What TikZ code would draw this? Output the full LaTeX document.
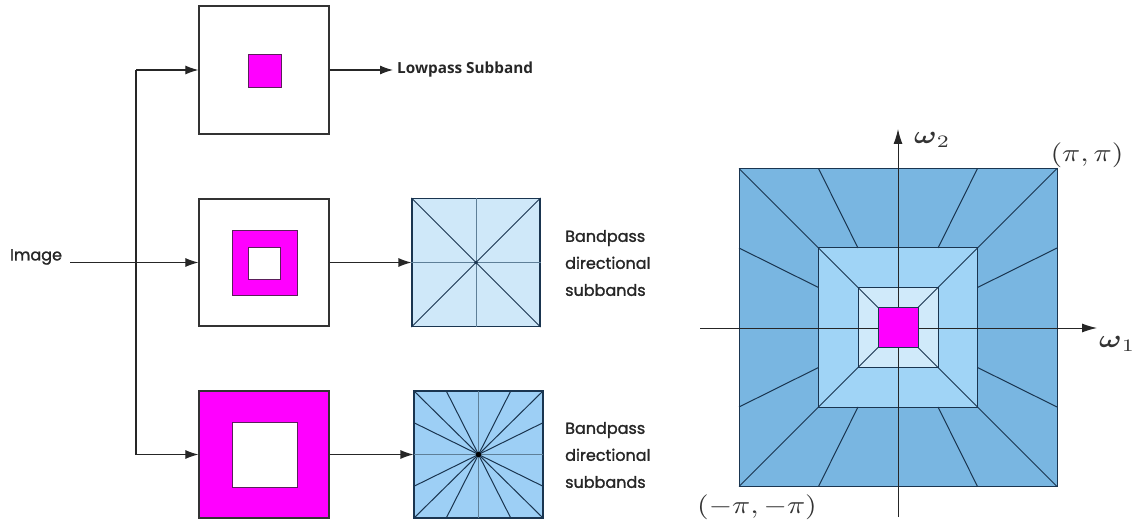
\documentclass[tikz,border=0pt]{standalone}
\usepackage{amsmath}
\usepackage{graphicx}
\usepackage{fontspec}
\newfontfamily\pop[FakeBold=1.4]{Poppins}
\newfontfamily\osans{Open Sans}
\usetikzlibrary{arrows.meta,calc}
\definecolor{mag}{HTML}{FF00FF}
\definecolor{magedge}{HTML}{5A1F5A}
\definecolor{bdark}{HTML}{79B6E1}
\definecolor{bmid}{HTML}{A0D4F6}
\definecolor{blight}{HTML}{D0EAFA}
\definecolor{sqa}{HTML}{CFE8F9}
\definecolor{sqb}{HTML}{9DCFF5}
\definecolor{navy}{HTML}{1A3550}
\definecolor{midln}{HTML}{5E7F98}
\definecolor{boxc}{HTML}{333333}
\newcommand{\bigmathlab}[1]{\scalebox{3.0}[2.5]{$#1$}}
\begin{document}
\begin{tikzpicture}[x=1pt,y=-1pt,
  box/.style={draw=boxc,line width=1.2pt,minimum width=130pt,minimum height=128pt,inner sep=0pt,fill=white},
  arr/.style={-{Latex[length=13pt,width=9pt]},line width=1.1pt,draw=black!85},
  dirbox/.style={draw=navy,line width=1.1pt,minimum width=128pt,minimum height=128pt,inner sep=0pt},
  dl/.style={draw=navy,line width=1pt},
  ml/.style={draw=midln,line width=1pt},
  magsq/.style={fill=mag,draw=magedge,line width=0.9pt},
  lab/.style={font=\pop\fontsize{16}{27}\selectfont,inner sep=0pt,text=black!85},
  mlab/.style={inner sep=0pt,text=black!80},
  rl/.style={draw=navy,line width=1pt},
  axarr/.style={-{Latex[length=15pt,width=9pt]},line width=1pt,draw=black!85}]
\useasboundingbox (0,0) rectangle (1137,529);

% ---------- left part ----------
\node[box] (lp) at (264,70) {};
\node[box,minimum height=127pt] (bp1) at (264,262.5) {};
\node[box,minimum height=127pt,fill=mag] (bp2) at (264,454.5) {};

\draw[magsq] (248,54) rectangle (281,87);
\draw[magsq] (232,230) rectangle (297,295);
\draw[fill=white,draw=magedge,line width=0.9pt] (248,247) rectangle (280,279);
\draw[fill=white,draw=magedge,line width=0.9pt] (232,422) rectangle (297,487);

\node[lab,anchor=center] (img) at (36,257) {Image};
\node[font=\osans\bfseries\fontsize{15.3}{18}\selectfont,inner sep=0pt,anchor=west,text=black!85] (lt) at (397,70) {Lowpass Subband};

\coordinate (j) at (136,300);
\draw[arr] ([xshift=8pt]img.east |- bp1.west) -- (bp1.west);
\draw[line width=1.1pt,draw=black!85] (j |- bp2.west) -- (j |- lp.west);
\draw[arr] (j |- lp.west) -- (lp.west);
\draw[arr] (j |- bp2.west) -- (bp2.west);
\draw[arr] (lp.east) -- ([xshift=-4pt]lt.west |- lp.east);

% directional squares
\node[dirbox,fill=sqa] (d1) at (476,262.5) {};
\node[dirbox,fill=sqb,minimum width=129pt,minimum height=127pt] (d2) at (478.5,454.5) {};

\draw[arr] (bp1.east) -- (d1.west);
\draw[arr] (bp2.east) -- (d2.west);

\draw[ml] (d1.north) -- (d1.south);
\draw[ml] (d1.west) -- (d1.east);
\draw[dl] (d1.north west) -- (d1.south east);
\draw[dl] (d1.north east) -- (d1.south west);
\fill[navy] (d1.center) circle (1.8pt);

\draw[ml] (d2.north) -- (d2.south);
\draw[ml] (d2.west) -- (d2.east);
\draw[dl] (d2.north west) -- (d2.south east);
\draw[dl] (d2.north east) -- (d2.south west);
\draw[dl] ($(d2.north west)!0.25!(d2.north east)$) -- ($(d2.south west)!0.75!(d2.south east)$);
\draw[dl] ($(d2.north west)!0.75!(d2.north east)$) -- ($(d2.south west)!0.25!(d2.south east)$);
\draw[dl] ($(d2.north west)!0.25!(d2.south west)$) -- ($(d2.north east)!0.75!(d2.south east)$);
\draw[dl] ($(d2.north west)!0.75!(d2.south west)$) -- ($(d2.north east)!0.25!(d2.south east)$);
\draw[dirbox] (d2.north west) rectangle (d2.south east);
\fill[black] (d2.center) circle (2.6pt);

\node[lab,align=left,anchor=west] (t1) at (565,263) {Bandpass\\directional\\subbands};
\node[lab,align=left,anchor=west] (t2) at (565,455) {Bandpass\\directional\\subbands};

% ---------- right part ----------
\begin{scope}[shift={(898,327.5)}]
  \draw[rl,fill=bdark] (-159,-159) rectangle (159,159);
  \draw[rl,fill=bmid] (-79.5,-79.5) rectangle (79.5,79.5);
  \draw[rl,fill=blight] (-40,-40) rectangle (40,40);
  \foreach \sx in {-1,1}{
    \foreach \sy in {-1,1}{
      \draw[rl] (\sx*159,\sy*159) -- (\sx*20,\sy*20);
      \draw[rl] (\sx*79.5,\sy*159) -- (\sx*40,\sy*79.5);
      \draw[rl] (\sy*159,\sx*79.5) -- (\sy*79.5,\sx*40);
    }
  }
  \coordinate (xa) at (-198,0.5);
  \coordinate (xb) at (199,0.5);
  \coordinate (ya) at (0,189.5);
  \coordinate (yb) at (0,-198.5);
  \draw[axarr] (xa) -- (xb);
  \draw[axarr] (ya) -- (yb);
  \draw[rl,fill=mag] (-20,-20) rectangle (20,20);
\end{scope}

\node[mlab,anchor=west] (w2) at (914,140) {\bigmathlab{\boldsymbol{\omega}_2}};
\node[mlab,anchor=west] (w1) at (1099,344) {\bigmathlab{\boldsymbol{\omega}_1}};
\node[mlab] (pp) at (1087,155) {\bigmathlab{(\pi,\pi)}};
\node[mlab] (mm) at (757,507) {\bigmathlab{(-\pi,-\pi)}};
\end{tikzpicture}
\end{document}
